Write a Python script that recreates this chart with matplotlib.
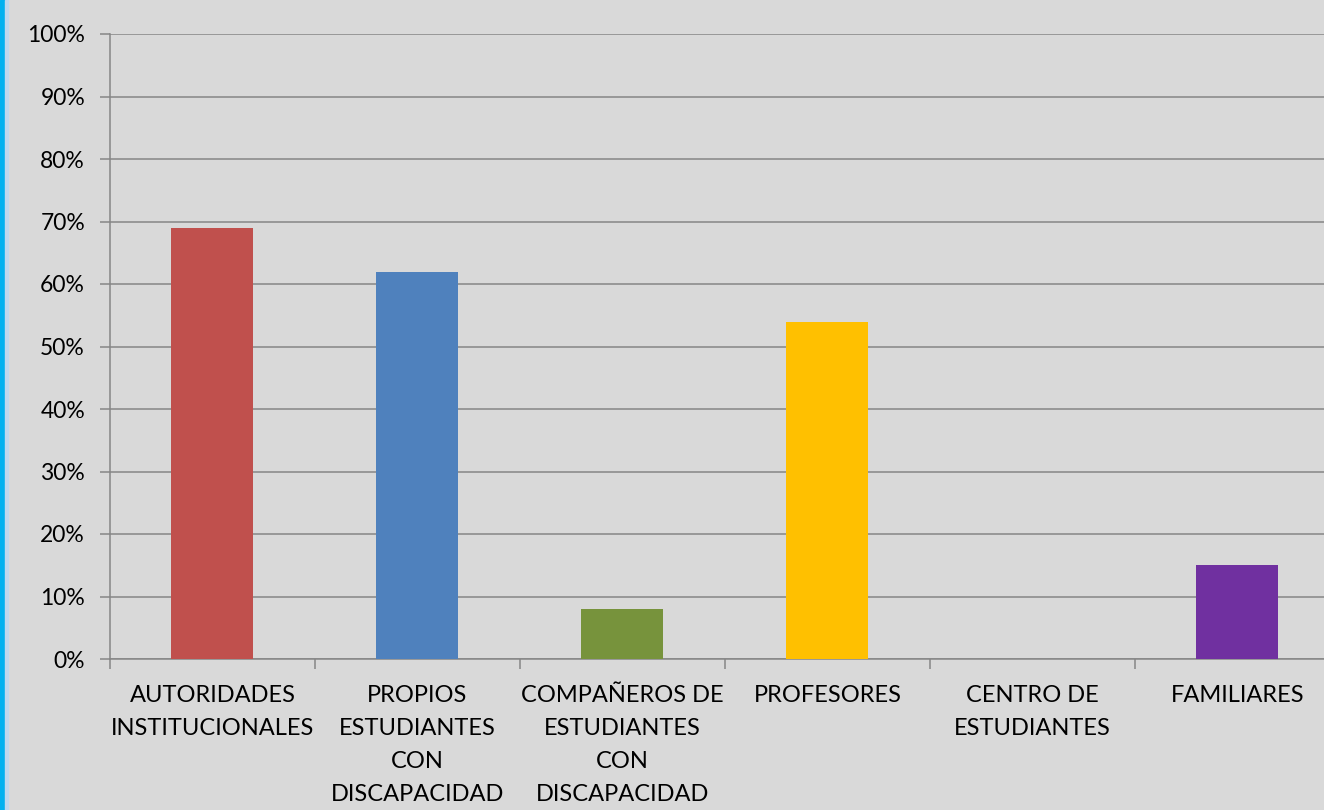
import matplotlib
matplotlib.use("Agg")
import matplotlib.pyplot as plt
from matplotlib.patches import Rectangle
from matplotlib.ticker import PercentFormatter, FixedLocator

# data
categories = ["AUTORIDADES\nINSTITUCIONALES", "PROPIOS\nESTUDIANTES\nCON\nDISCAPACIDAD",
              "COMPAÑEROS DE\nESTUDIANTES\nCON\nDISCAPACIDAD", "PROFESORES",
              "CENTRO DE\nESTUDIANTES", "FAMILIARES"]
values = [69, 62, 8, 54, 0, 15]
colors = ["#C0504D", "#4F81BD", "#77933C", "#FFC000", "#4F81BD", "#7030A0"]
yticks = list(range(0, 101, 10))

plt.rcParams["font.family"] = ["Lato", "DejaVu Sans"]

W, H = 1324, 810
fig = plt.figure(figsize=(W / 100, H / 100), dpi=100)
fig.patch.set_facecolor("#D9D9D9")

ax = fig.add_axes([110 / W, (H - 659) / H, 1230 / W, 625 / H])
ax.set_facecolor("#D9D9D9")

x = list(range(len(categories)))
ax.bar(x, values, width=0.4, color=colors, zorder=3)

ax.set_xlim(-0.5, 5.5)
ax.set_ylim(0, 100)
ax.set_yticks(yticks)
ax.yaxis.set_major_formatter(PercentFormatter(decimals=0))
ax.grid(axis="y", color="#868686", linewidth=1.1, zorder=0)

ax.set_xticks(x)
ax.set_xticklabels(categories, fontsize=17, linespacing=1.7, va="top")
ax.xaxis.set_minor_locator(FixedLocator([i - 0.5 for i in range(len(categories) + 1)]))
ax.tick_params(axis="x", which="major", length=0, pad=19)
ax.tick_params(axis="x", which="minor", length=7, width=1.1, color="#868686")
ax.tick_params(axis="y", length=7, width=1.1, color="#868686", labelsize=16.5, pad=11)

for s in ["top", "right"]:
    ax.spines[s].set_visible(False)
for s in ["left", "bottom"]:
    ax.spines[s].set_color("#868686")
    ax.spines[s].set_linewidth(1.1)

# blue border on the left edge
fig.patches.append(Rectangle((0, 0), 5 / W, 1, transform=fig.transFigure,
                             color="#00B0F0", zorder=10))
fig.patches.append(Rectangle((5 / W, 0), 3 / W, 1, transform=fig.transFigure,
                             color="#BDD7EE", zorder=10))

fig.savefig("out.png", dpi=100, facecolor=fig.get_facecolor())
